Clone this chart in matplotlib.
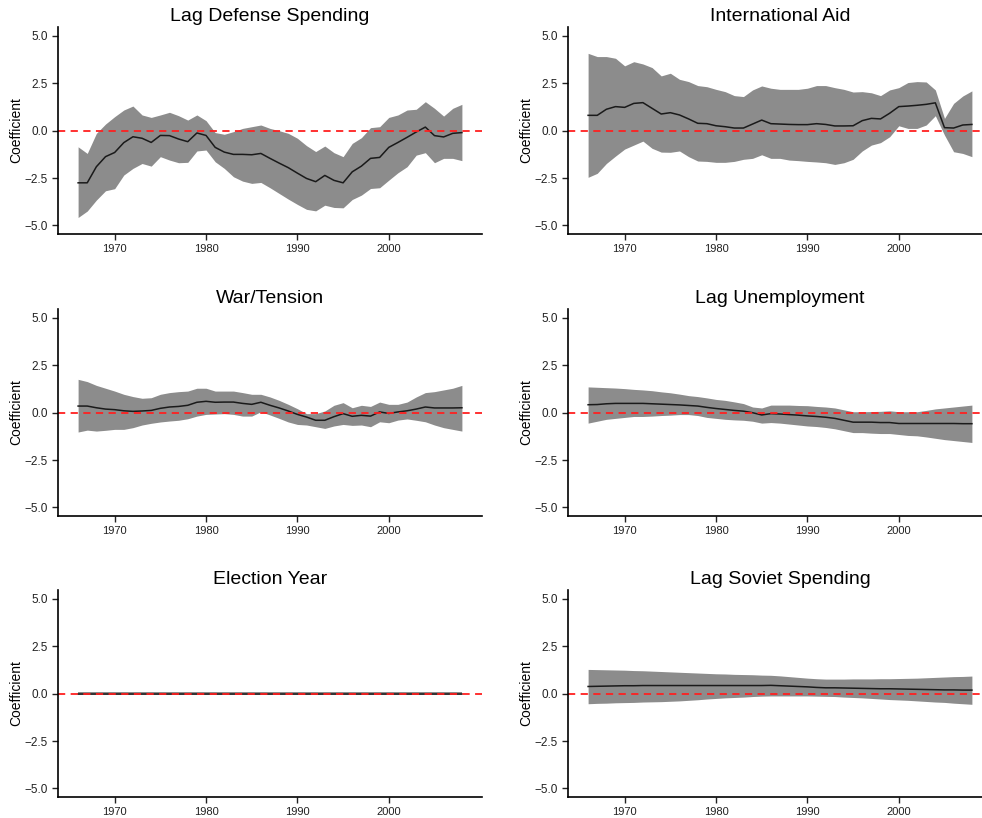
import matplotlib
matplotlib.use("Agg")
import matplotlib.pyplot as plt
import numpy as np

plt.rcParams['font.family'] = ['Liberation Sans', 'DejaVu Sans']

years = np.arange(1966, 2009)

# Lag Defense Spending
defense_mean = [-2.75, -2.75, -1.9, -1.37, -1.15, -0.63, -0.32, -0.4, -0.62, -0.25,
                -0.26, -0.44, -0.58, -0.12, -0.25, -0.88, -1.13, -1.25, -1.25, -1.27,
                -1.2, -1.46, -1.71, -1.95, -2.24, -2.52, -2.69, -2.36, -2.62, -2.75,
                -2.17, -1.87, -1.46, -1.41, -0.88, -0.62, -0.35, -0.07, 0.19, -0.26,
                -0.33, -0.14, -0.1]
defense_hi = [-0.85, -1.2, -0.14, 0.35, 0.74, 1.09, 1.3, 0.83, 0.7, 0.83,
              0.97, 0.79, 0.56, 0.83, 0.53, -0.1, -0.19, -0.05, 0.12, 0.21,
              0.3, 0.12, 0.0, -0.14, -0.4, -0.79, -1.1, -0.81, -1.16, -1.37,
              -0.67, -0.37, 0.16, 0.21, 0.7, 0.83, 1.09, 1.13, 1.53, 1.18,
              0.77, 1.18, 1.39]
defense_lo = [-4.58, -4.24, -3.66, -3.17, -3.06, -2.34, -1.99, -1.73, -1.87, -1.37,
              -1.55, -1.69, -1.67, -1.07, -1.02, -1.64, -1.99, -2.43, -2.66, -2.78,
              -2.73, -3.01, -3.31, -3.61, -3.89, -4.15, -4.23, -3.93, -4.05, -4.07,
              -3.63, -3.4, -3.05, -3.01, -2.61, -2.22, -1.9, -1.29, -1.16, -1.69,
              -1.46, -1.46, -1.58]

# International Aid
aid_mean = [0.81, 0.81, 1.13, 1.27, 1.23, 1.44, 1.48, 1.18, 0.88, 0.95,
            0.83, 0.62, 0.39, 0.37, 0.26, 0.21, 0.14, 0.14, 0.35, 0.56,
            0.37, 0.35, 0.33, 0.32, 0.32, 0.37, 0.33, 0.25, 0.25, 0.26,
            0.53, 0.65, 0.62, 0.92, 1.27, 1.3, 1.34, 1.39, 1.47, 0.16,
            0.14, 0.3, 0.33]
aid_hi = [4.08, 3.91, 3.91, 3.82, 3.42, 3.64, 3.52, 3.33, 2.89, 3.03,
          2.71, 2.59, 2.38, 2.32, 2.18, 2.06, 1.85, 1.8, 2.15, 2.36,
          2.24, 2.18, 2.18, 2.18, 2.24, 2.38, 2.38, 2.27, 2.18, 2.04,
          2.06, 2.0, 1.85, 2.15, 2.27, 2.54, 2.59, 2.57, 2.15, 0.65,
          1.44, 1.83, 2.1]
aid_lo = [-2.46, -2.25, -1.73, -1.34, -0.97, -0.76, -0.55, -0.93, -1.13, -1.14,
          -1.07, -1.37, -1.6, -1.62, -1.67, -1.67, -1.62, -1.51, -1.46, -1.27,
          -1.46, -1.46, -1.55, -1.58, -1.62, -1.65, -1.69, -1.78, -1.69, -1.51,
          -1.07, -0.76, -0.63, -0.32, 0.26, 0.12, 0.12, 0.3, 0.79, -0.23,
          -1.11, -1.2, -1.37]

# War/Tension
war_mean = [0.35, 0.35, 0.26, 0.19, 0.16, 0.1, 0.07, 0.09, 0.12, 0.23,
            0.3, 0.33, 0.39, 0.55, 0.6, 0.55, 0.56, 0.56, 0.49, 0.44,
            0.55, 0.39, 0.25, 0.09, -0.09, -0.23, -0.4, -0.4, -0.21, -0.05,
            -0.19, -0.14, -0.18, 0.04, -0.04, 0.04, 0.1, 0.19, 0.3, 0.25,
            0.25, 0.25, 0.26]
war_hi = [1.76, 1.64, 1.44, 1.29, 1.14, 0.97, 0.85, 0.76, 0.79, 0.97,
          1.06, 1.11, 1.14, 1.29, 1.29, 1.14, 1.14, 1.14, 1.06, 0.97,
          0.97, 0.83, 0.65, 0.44, 0.21, -0.05, -0.05, 0.09, 0.39, 0.53,
          0.26, 0.39, 0.33, 0.56, 0.44, 0.44, 0.56, 0.83, 1.06, 1.11,
          1.2, 1.29, 1.44]
war_lo = [-1.02, -0.92, -0.97, -0.93, -0.88, -0.88, -0.79, -0.65, -0.56, -0.49,
          -0.44, -0.4, -0.32, -0.18, -0.09, -0.07, -0.05, -0.09, -0.18, -0.18,
          0.05, -0.12, -0.3, -0.49, -0.62, -0.65, -0.74, -0.83, -0.7, -0.62,
          -0.67, -0.65, -0.74, -0.48, -0.53, -0.39, -0.33, -0.4, -0.48, -0.65,
          -0.79, -0.88, -0.97]

# Lag Unemployment
unemp_mean = [0.42, 0.43, 0.47, 0.49, 0.49, 0.49, 0.49, 0.47, 0.45, 0.43,
              0.41, 0.38, 0.35, 0.28, 0.22, 0.17, 0.12, 0.08, 0.0, -0.12,
              -0.05, -0.07, -0.1, -0.13, -0.17, -0.2, -0.24, -0.3, -0.4, -0.5,
              -0.5, -0.5, -0.52, -0.52, -0.57, -0.57, -0.57, -0.57, -0.57, -0.57,
              -0.57, -0.58, -0.58]
unemp_hi = [1.36, 1.34, 1.32, 1.3, 1.27, 1.23, 1.2, 1.16, 1.1, 1.05,
            0.98, 0.9, 0.85, 0.78, 0.7, 0.65, 0.57, 0.48, 0.3, 0.25,
            0.4, 0.4, 0.4, 0.38, 0.37, 0.33, 0.3, 0.25, 0.15, 0.05,
            0.05, 0.06, 0.07, 0.1, 0.05, 0.05, 0.05, 0.12, 0.2, 0.25,
            0.3, 0.35, 0.4]
unemp_lo = [-0.55, -0.45, -0.35, -0.3, -0.25, -0.2, -0.2, -0.18, -0.15, -0.13,
            -0.1, -0.1, -0.15, -0.25, -0.3, -0.35, -0.38, -0.4, -0.45, -0.55,
            -0.52, -0.55, -0.6, -0.65, -0.7, -0.73, -0.78, -0.85, -0.95, -1.05,
            -1.05, -1.08, -1.1, -1.1, -1.15, -1.2, -1.22, -1.28, -1.35, -1.42,
            -1.47, -1.52, -1.57]

# Election Year
elect_mean = [0.0] * 43
elect_hi = [0.07] * 43
elect_lo = [-0.08] * 43

# Lag Soviet Spending
soviet_mean = [0.38, 0.39, 0.4, 0.41, 0.42, 0.42, 0.43, 0.43, 0.43, 0.43,
               0.43, 0.43, 0.43, 0.43, 0.43, 0.43, 0.43, 0.43, 0.43, 0.43,
               0.44, 0.42, 0.4, 0.38, 0.36, 0.33, 0.31, 0.31, 0.3, 0.29,
               0.28, 0.27, 0.26, 0.26, 0.25, 0.24, 0.23, 0.22, 0.21, 0.2,
               0.2, 0.19, 0.19]
soviet_hi = [1.28, 1.27, 1.26, 1.25, 1.24, 1.22, 1.21, 1.19, 1.17, 1.15,
             1.13, 1.11, 1.09, 1.07, 1.05, 1.04, 1.02, 1.01, 1.0, 0.98,
             0.97, 0.94, 0.9, 0.86, 0.82, 0.79, 0.77, 0.77, 0.77, 0.78,
             0.78, 0.78, 0.79, 0.79, 0.8, 0.81, 0.82, 0.84, 0.86, 0.88,
             0.9, 0.91, 0.93]
soviet_lo = [-0.53, -0.51, -0.5, -0.48, -0.47, -0.46, -0.44, -0.43, -0.42, -0.4,
             -0.38, -0.35, -0.32, -0.28, -0.25, -0.22, -0.2, -0.18, -0.15, -0.13,
             -0.12, -0.12, -0.12, -0.12, -0.12, -0.13, -0.14, -0.15, -0.18, -0.2,
             -0.22, -0.25, -0.28, -0.31, -0.33, -0.35, -0.38, -0.41, -0.44, -0.46,
             -0.5, -0.53, -0.56]

titles = ['Lag Defense Spending', 'International Aid', 'War/Tension',
          'Lag Unemployment', 'Election Year', 'Lag Soviet Spending']
means = [defense_mean, aid_mean, war_mean, unemp_mean, elect_mean, soviet_mean]
highs = [defense_hi, aid_hi, war_hi, unemp_hi, elect_hi, soviet_hi]
lows = [defense_lo, aid_lo, war_lo, unemp_lo, elect_lo, soviet_lo]

W, H = 982, 818
fig = plt.figure(figsize=(W / 100, H / 100), dpi=100)

# panel boxes in pixels: left, bottom edge (from top)
lefts = [58, 568]
bottoms = [234, 516, 797]
ax_w, ax_h = 424, 207

for i in range(6):
    r, c = divmod(i, 2)
    ax = fig.add_axes([lefts[c] / W, (H - bottoms[r]) / H, ax_w / W, ax_h / H])
    ax.fill_between(years, lows[i], highs[i], color='#8c8c8c', lw=0)
    ax.plot(years, means[i], color='#1a1a1a', lw=1.1)
    ax.axhline(0, color='#ff2020', lw=1.3, ls=(0, (4, 3)))
    ax.set_xlim(1963.8, 2010.2)
    ax.set_ylim(-5.45, 5.47)
    ax.set_xticks([1970, 1980, 1990, 2000])
    ax.set_yticks([5, 2.5, 0, -2.5, -5])
    ax.set_yticklabels(['5.0', '2.5', '0.0', '\u22122.5', '\u22125.0'])
    ax.tick_params(labelsize=8.5, length=4, width=1, direction='out', colors='#222222')
    ax.tick_params(axis='x', labelsize=8)
    for s in ['top', 'right']:
        ax.spines[s].set_visible(False)
    for s in ['left', 'bottom']:
        ax.spines[s].set_linewidth(1.2)
    ax.set_ylabel('Coefficient', fontsize=10, labelpad=1)
    ax.set_title(titles[i], fontsize=14, pad=4)

fig.savefig('out.png', dpi=100)
